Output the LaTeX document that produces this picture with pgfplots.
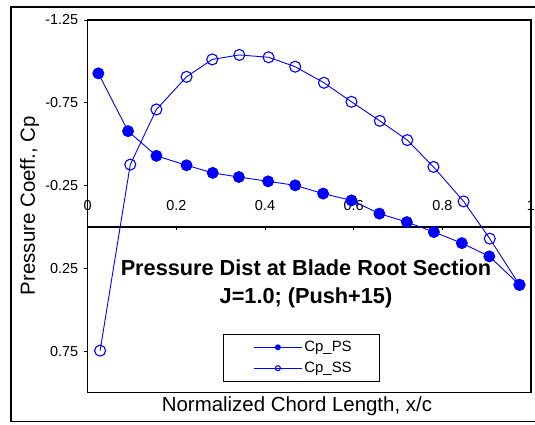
\documentclass[border=0pt]{standalone}
\usepackage{fontspec}
\setmainfont{Liberation Sans}
\usepackage{pgfplots}
\usepackage{pgfplotstable}
\pgfplotsset{compat=1.18}
\definecolor{cpblue}{RGB}{0,0,255}

% pressure side / suction side Cp along the chord
\pgfplotstableread{
x      cp
0.024  -0.928
0.091  -0.579
0.155  -0.430
0.223  -0.373
0.282  -0.327
0.341  -0.302
0.407  -0.276
0.468  -0.252
0.531  -0.202
0.595  -0.161
0.658  -0.081
0.720  -0.030
0.781   0.030
0.844   0.097
0.906   0.177
0.974   0.349
}\pressureside
\pgfplotstableread{
x      cp
0.028   0.746
0.096  -0.377
0.155  -0.710
0.223  -0.907
0.281  -1.012
0.342  -1.039
0.408  -1.025
0.468  -0.968
0.533  -0.871
0.595  -0.756
0.659  -0.641
0.721  -0.525
0.780  -0.363
0.848  -0.155
0.907   0.070
0.974   0.349
}\suctionside

\begin{document}
\begin{tikzpicture}
\useasboundingbox (-87.7bp,-32.3bp) rectangle (447.3bp,392.7bp);
% outer chart frame
\draw[line width=1.3bp, black] (-76.7bp,-29bp) rectangle (452bp,385.7bp);

% horizontal axis through Cp = 0, labels above the line
\begin{axis}[
  scale only axis, width=443.3bp, height=372.7bp,
  xmin=0, xmax=1, ymin=-1.25, ymax=1.0, y dir=reverse,
  axis x line=middle, axis y line=none,
  axis line style={-, line width=1.2bp, black},
  hide obscured x ticks=false,
  xtick={0,0.2,0.4,0.6,0.8,1}, xticklabels={0,0.2,0.4,0.6,0.8,1},
  tick align=inside, major tick length=3bp,
  tick style={black, line width=0.8bp},
  xticklabel style={anchor=south, yshift=13bp, font=\fontsize{14.5}{16}\selectfont},
]
\end{axis}

\begin{axis}[
  scale only axis, width=443.3bp, height=372.7bp,
  xmin=0, xmax=1, ymin=-1.25, ymax=1.0, y dir=reverse,
  axis line style={line width=1.2bp, black},
  xtick=\empty,
  ytick={-1.25,-0.75,-0.25,0.25,0.75},
  yticklabels={-1.25,-0.75,-0.25,0.25,0.75},
  ytick pos=left,
  tick align=outside, major tick length=4bp,
  tick style={black, line width=0.8bp},
  yticklabel style={font=\fontsize{14.5}{16}\selectfont, xshift=-2bp},
  xlabel={Normalized Chord Length, x/c},
  xlabel style={at={(axis description cs:0.472,0)}, anchor=north, inner sep=0pt, yshift=-3.5bp,
    font=\fontsize{20.5}{23}\selectfont},
  ylabel={Pressure Coeff., Cp},
  ylabel style={at={(axis description cs:-0.131,0.502)}, anchor=center, rotate=0,
    font=\fontsize{20.5}{23}\selectfont},
  legend style={at={(axis description cs:0.306,0.158)}, anchor=north west,
    draw=black, line width=1bp, font=\fontsize{15}{17}\selectfont,
    inner xsep=4bp, inner ysep=5bp, row sep=5bp},
  legend cell align=left,
  legend image code/.code={
    \draw[white, line width=0.1bp] (0bp,0bp) -- (26bp,0bp);
    \draw[#1,mark=none] (26bp,0bp) -- (74bp,0bp);
    \draw[#1,mark size=2.5bp] plot[only marks] coordinates {(50bp,0bp)};
  },
]
\addplot[cpblue, line width=0.9bp, mark=*, mark size=5.5bp,
  mark options={fill=cpblue}] table[x=x, y=cp] {\pressureside};
\addlegendentry{Cp\_PS\hspace*{22bp}}
\addplot[cpblue, line width=0.9bp, mark=o, mark size=5.5bp,
  mark options={line width=1.1bp}] table[x=x, y=cp] {\suctionside};
\addlegendentry{Cp\_SS\hspace*{22bp}}

\node[font=\bfseries\fontsize{21.8}{28}\selectfont, align=center]
  at (axis description cs:0.4925,0.2917)
  {Pressure Dist at Blade Root Section\\J=1.0; (Push+15)};
\end{axis}
\end{tikzpicture}
\end{document}
